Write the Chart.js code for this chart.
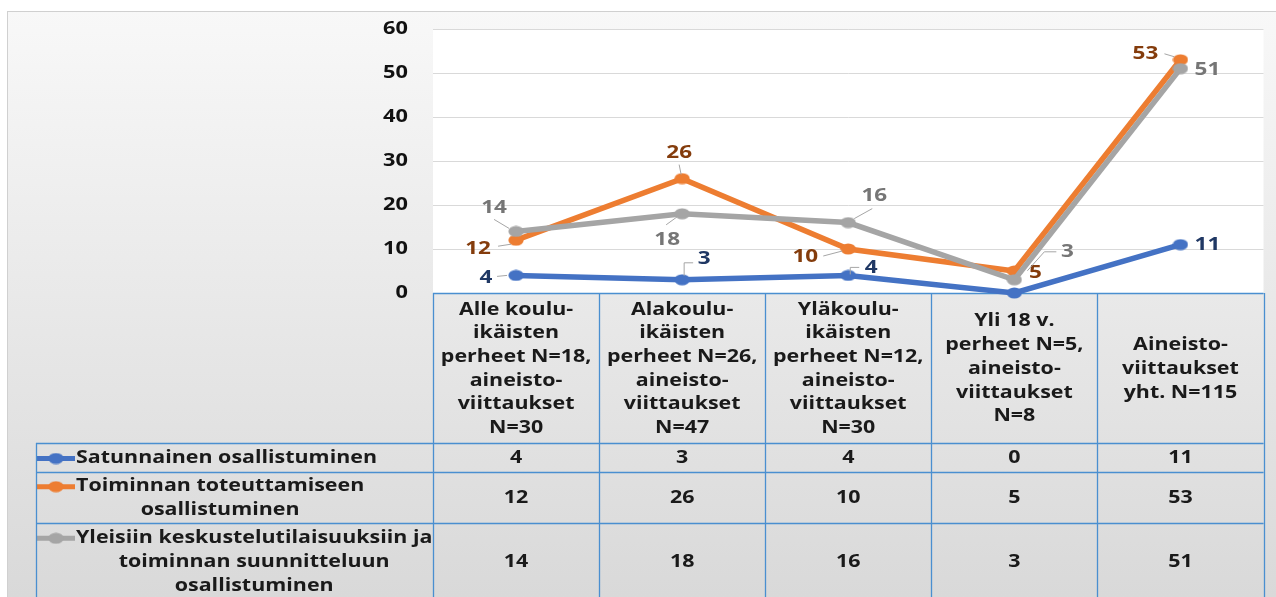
<!DOCTYPE html>
<html>
<head>
<meta charset="utf-8">
<script src="https://cdn.jsdelivr.net/npm/chart.js@4.4.1/dist/chart.umd.min.js"></script>
<style>
html, body { margin: 0; padding: 0; background: #fff; overflow: hidden; }
#chart { display: block; }
</style>
</head>
<body>
<canvas id="chart" width="1276" height="597"></canvas>
<script>
// data
var categories = [
  ['Alle koulu-', 'ikäisten', 'perheet N=18,', 'aineisto-', 'viittaukset', 'N=30'],
  ['Alakoulu-', 'ikäisten', 'perheet N=26,', 'aineisto-', 'viittaukset', 'N=47'],
  ['Yläkoulu-', 'ikäisten', 'perheet N=12,', 'aineisto-', 'viittaukset', 'N=30'],
  ['Yli 18 v.', 'perheet N=5,', 'aineisto-', 'viittaukset', 'N=8'],
  ['Aineisto-', 'viittaukset', 'yht. N=115']
];
var satunnainen = [4, 3, 4, 0, 11];
var toteuttaminen = [12, 26, 10, 5, 53];
var suunnittelu = [14, 18, 16, 3, 51];
var seriesNames = [
  ['Satunnainen osallistuminen'],
  ['Toiminnan toteuttamiseen', 'osallistuminen'],
  ['Yleisiin keskustelutilaisuuksiin ja', 'toiminnan suunnitteluun', 'osallistuminen']
];
var yMax = 60;
var yStep = 10;

// styles
var FONT = '"Open Sans", sans-serif';
var colors = ['#4472c4', '#ed7d31', '#a5a5a5'];
var labelColors = ['#203864', '#843c0c', '#767676'];
var gridBlue = '#4a8fd0';
var TEXT_SX = 1.26; // the picture is a bit stretched sideways

// label offsets from the point [dx, dy, leader], null = no label
var labelPos = [
  [[-30, 2, 'L0'], [22, -21, 'L1'], [23, -8, 'L2'], null, [27, 0]],
  [[-38, 9, 'L3'], [-3, -26, 'L4'], [-43, 8, 'L5'], [21, 2], [-35, -6, 'L6']],
  [[-22, -24, 'L7'], [-15, 26, 'L8'], [26, -27, 'L9'], [53, -28, 'L10'], [27, 1]]
];
// leader lines, relative to point
var leaders = {
  L0: [[-9, 0], [-19, 1]],
  L1: [[2, -4], [2, -17], [11, -17]],
  L2: [[2, -1], [2, -8], [11, -8]],
  L3: [[-5, 4], [-18, 6]],
  L4: [[-1, -4], [-3, -14]],
  L5: [[-6, 2], [-25, 7]],
  L6: [[-6, -3], [-16, -6]],
  L7: [[-7, -3], [-22, -12]],
  L8: [[-5, 3], [-16, 11]],
  L9: [[6, -4], [24, -14]],
  L10: [[13, -9], [30, -28], [42, -28]]
};

function marker(c) {
  var cv = document.createElement('canvas');
  cv.width = 16; cv.height = 12;
  var x = cv.getContext('2d');
  x.fillStyle = c;
  x.beginPath();
  x.ellipse(8, 6, 7.6, 5.6, 0, 0, Math.PI * 2);
  x.fill();
  return cv;
}
var markers = colors.map(marker);

function wideText(ctx, s, x, y, sx) {
  ctx.save();
  ctx.translate(x, y);
  ctx.scale(sx, 1);
  ctx.fillText(s, 0, 0);
  ctx.restore();
}

var bgPlugin = {
  id: 'bg',
  beforeDraw: function(chart) {
    var ctx = chart.ctx, a = chart.chartArea;
    ctx.save();
    ctx.fillStyle = '#fff';
    ctx.fillRect(0, 0, chart.width, chart.height);
    var g = ctx.createLinearGradient(0, 11, 0, chart.height);
    g.addColorStop(0, '#f8f8f8');
    g.addColorStop(1, '#d9d9d9');
    ctx.fillStyle = g;
    ctx.fillRect(7, 11, chart.width - 7, chart.height - 11);
    ctx.strokeStyle = '#d0d0d0';
    ctx.lineWidth = 1;
    ctx.strokeRect(7.5, 11.5, chart.width, chart.height);
    ctx.fillStyle = '#fff';
    ctx.fillRect(a.left, a.top, a.right - a.left, a.bottom - a.top);
    ctx.restore();
  },
  afterDraw: function(chart) {
    // y tick labels
    var ctx = chart.ctx, y = chart.scales.y;
    ctx.save();
    ctx.font = 'bold 17px ' + FONT;
    ctx.fillStyle = '#111';
    ctx.textAlign = 'right';
    ctx.textBaseline = 'middle';
    y.ticks.forEach(function(t) {
      wideText(ctx, String(t.value), 408, y.getPixelForValue(t.value), 1.28);
    });
    ctx.restore();
  }
};

var tablePlugin = {
  id: 'table',
  beforeDatasetsDraw: function(chart) {
    var ctx = chart.ctx, a = chart.chartArea;
    var n = categories.length;
    var colW = (a.right - a.left) / n;
    var hdrTop = a.bottom, hdrBot = hdrTop + 150;
    var rowTops = [hdrBot, hdrBot + 29, hdrBot + 80];
    var rowBots = [hdrBot + 29, hdrBot + 80, hdrBot + 156];
    var all = [satunnainen, toteuttaminen, suunnittelu];
    var lh = 23.7;
    ctx.save();
    ctx.fillStyle = '#1a1a1a';
    ctx.font = 'bold 17px ' + FONT;
    ctx.textAlign = 'center';
    ctx.textBaseline = 'middle';
    // header + values
    for (var i = 0; i < n; i++) {
      var cx = chart.scales.x.getPixelForValue(i);
      var lines = categories[i];
      var cy = (hdrTop + hdrBot) / 2 + 1;
      for (var j = 0; j < lines.length; j++) {
        wideText(ctx, lines[j], cx, cy + (j - (lines.length - 1) / 2) * lh, TEXT_SX);
      }
      for (var r = 0; r < 3; r++) {
        wideText(ctx, String(all[r][i]), cx, (rowTops[r] + rowBots[r]) / 2 + 1, TEXT_SX);
      }
    }
    // row labels with legend keys
    var iconL = 37, iconR = 75, textL = 76;
    for (var r = 0; r < 3; r++) {
      var names = seriesNames[r];
      var w = 0;
      names.forEach(function(s) { w = Math.max(w, ctx.measureText(s).width * TEXT_SX); });
      var cx = textL + w / 2;
      var cy = (rowTops[r] + rowBots[r]) / 2 + 1;
      for (var j = 0; j < names.length; j++) {
        wideText(ctx, names[j], cx, cy + (j - (names.length - 1) / 2) * lh, TEXT_SX);
      }
      var iy = cy - (names.length - 1) / 2 * lh;
      ctx.strokeStyle = colors[r];
      ctx.lineWidth = 5;
      ctx.beginPath();
      ctx.moveTo(iconL, iy);
      ctx.lineTo(iconR, iy);
      ctx.stroke();
      ctx.drawImage(markers[r], (iconL + iconR) / 2 - 8, iy - 6);
    }
    // table lines
    ctx.strokeStyle = gridBlue;
    ctx.lineWidth = 1.3;
    ctx.beginPath();
    ctx.moveTo(a.left, hdrTop + 0.5);
    ctx.lineTo(a.right, hdrTop + 0.5);
    for (var r = 0; r < 3; r++) {
      ctx.moveTo(36, rowTops[r] + 0.5);
      ctx.lineTo(a.right, rowTops[r] + 0.5);
    }
    ctx.moveTo(36, rowBots[2] + 0.5);
    ctx.lineTo(a.right, rowBots[2] + 0.5);
    ctx.moveTo(36.5, hdrBot);
    ctx.lineTo(36.5, rowBots[2]);
    for (var i = 0; i <= n; i++) {
      var x = Math.round(a.left + i * colW) + 0.5;
      ctx.moveTo(x, hdrTop);
      ctx.lineTo(x, rowBots[2]);
    }
    ctx.stroke();
    ctx.restore();
  }
};

var labelPlugin = {
  id: 'pointLabels',
  afterDatasetsDraw: function(chart) {
    var ctx = chart.ctx;
    ctx.save();
    ctx.font = 'bold 18px ' + FONT;
    ctx.textAlign = 'center';
    ctx.textBaseline = 'middle';
    chart.data.datasets.forEach(function(ds, d) {
      var meta = chart.getDatasetMeta(d);
      meta.data.forEach(function(pt, i) {
        var p = labelPos[d][i];
        if (!p) return;
        if (p[2]) {
          ctx.strokeStyle = '#a6a6a6';
          ctx.lineWidth = 1;
          ctx.beginPath();
          leaders[p[2]].forEach(function(q, k) {
            if (k === 0) ctx.moveTo(pt.x + q[0], pt.y + q[1]);
            else ctx.lineTo(pt.x + q[0], pt.y + q[1]);
          });
          ctx.stroke();
        }
        ctx.fillStyle = labelColors[d];
        wideText(ctx, String(ds.data[i]), pt.x + p[0], pt.y + p[1], 1.25);
      });
    });
    ctx.restore();
  }
};

function line(name, data, d, order) {
  return {
    label: name,
    data: data,
    borderColor: colors[d],
    backgroundColor: colors[d],
    borderWidth: 5.5,
    pointStyle: markers[d],
    pointRadius: 7,
    pointHoverRadius: 7,
    tension: 0,
    clip: false,
    order: order
  };
}

new Chart(document.getElementById('chart'), {
  type: 'line',
  data: {
    labels: categories,
    datasets: [
      line(seriesNames[0].join(' '), satunnainen, 0, 2),
      line(seriesNames[1].join(' '), toteuttaminen, 1, 1),
      line(seriesNames[2].join(' '), suunnittelu, 2, 0)
    ]
  },
  options: {
    responsive: false,
    animation: false,
    events: [],
    layout: { padding: { top: 29, right: 7, bottom: 304, left: 0 } },
    plugins: {
      legend: { display: false },
      tooltip: { enabled: false }
    },
    scales: {
      x: {
        display: false,
        offset: true
      },
      y: {
        min: 0,
        max: yMax,
        afterFit: function(scale) { scale.width = 433; },
        border: { display: false },
        grid: { color: '#d9d9d9', lineWidth: 1, drawTicks: false },
        ticks: {
          stepSize: yStep,
          display: false
        }
      }
    }
  },
  plugins: [bgPlugin, tablePlugin, labelPlugin]
});
</script>
</body>
</html>
